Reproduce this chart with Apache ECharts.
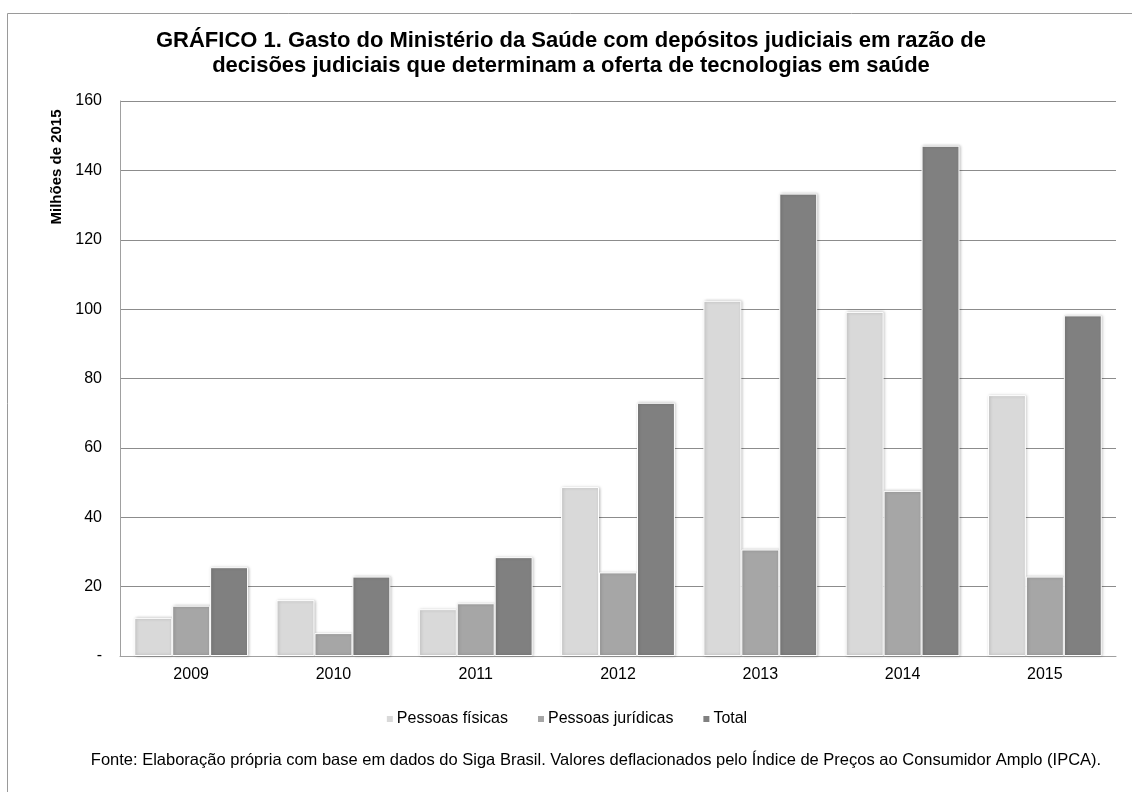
<!DOCTYPE html>
<html lang="pt">
<head>
<meta charset="UTF-8">
<title>Gráfico 1</title>
<script src="https://cdn.jsdelivr.net/npm/echarts@6/dist/echarts.min.js"></script>
<style>
html,body{margin:0;padding:0;background:#fff}
#chartBox{width:1132px;height:792px}
</style>
</head>
<body>
<div id="chartBox"></div>
<script>
// dados
const anos = ['2009', '2010', '2011', '2012', '2013', '2014', '2015'];
const pessoasFisicas = [11.0, 16.1, 13.5, 48.7, 102.4, 99.2, 75.2];
const pessoasJuridicas = [14.5, 6.6, 15.2, 24.1, 30.7, 47.6, 22.9];
const total = [25.6, 22.9, 28.5, 73.0, 133.3, 147.1, 98.2];
const nomesSeries = ['Pessoas físicas', 'Pessoas jurídicas', 'Total'];
const cores = ['#d9d9d9', '#a6a6a6', '#808080'];

const fonte = 'Liberation Sans, Arial, sans-serif';

function serie(nome, dados, cor) {
    return {
        type: 'bar',
        name: nome,
        data: dados,
        barGap: '0%',
        barCategoryGap: '20%',
        itemStyle: {
            color: cor,
            borderColor: '#ffffff',
            borderWidth: 1,
            shadowColor: 'rgba(0,0,0,0.25)',
            shadowBlur: 3,
            shadowOffsetX: 1,
            shadowOffsetY: 0
        }
    };
}

let chartObj = echarts.init(document.getElementById('chartBox'));
chartObj.setOption({
    animation: false,
    textStyle: {fontFamily: fonte},
    title: {
        text: 'GRÁFICO 1. Gasto do Ministério da Saúde com depósitos judiciais em razão de\ndecisões judiciais que determinam a oferta de tecnologias em saúde',
        left: 566,
        textAlign: 'center',
        top: 23,
        textStyle: {fontSize: 22, fontWeight: 'bold', color: '#000', lineHeight: 25, fontFamily: fonte}
    },
    grid: {left: 120, right: 16, top: 101, bottom: 136, containLabel: false},
    xAxis: {
        type: 'category',
        data: anos,
        axisLine: {lineStyle: {color: '#a0a0a0', width: 1}},
        axisTick: {show: false},
        axisLabel: {fontSize: 16, color: '#000', margin: 11}
    },
    yAxis: {
        type: 'value',
        min: 0,
        max: 160,
        interval: 20,
        axisLine: {show: true, lineStyle: {color: '#a0a0a0'}},
        axisTick: {show: false},
        splitLine: {lineStyle: {color: '#8c8c8c', width: 1}},
        axisLabel: {
            fontSize: 16, color: '#000', margin: 18,
            formatter: v => v === 0 ? '-' : String(v)
        }
    },
    legend: {
        data: nomesSeries,
        bottom: 60,
        left: 'center',
        itemWidth: 8,
        itemHeight: 8,
        itemGap: 28,
        icon: 'rect',
        textStyle: {fontSize: 16, color: '#000', padding: [0, 0, 0, -2]}
    },
    graphic: [
        {
            type: 'rect',
            shape: {x: 7.5, y: 13.5, width: 1200, height: 900},
            style: {fill: 'none', stroke: '#9a9a9a', lineWidth: 1},
            silent: true,
            z: -1
        },
        {
            type: 'text',
            x: 57,
            y: 167,
            rotation: Math.PI / 2,
            style: {
                text: 'Milhões de 2015',
                font: 'bold 15px ' + fonte,
                fill: '#000',
                align: 'center',
                verticalAlign: 'middle'
            }
        },
        {
            type: 'text',
            x: 596,
            y: 760,
            style: {
                text: 'Fonte: Elaboração própria com base em dados do Siga Brasil. Valores deflacionados pelo Índice de Preços ao Consumidor Amplo (IPCA).',
                font: '16.5px ' + fonte,
                fill: '#000',
                align: 'center',
                verticalAlign: 'middle'
            }
        }
    ],
    series: [
        serie(nomesSeries[0], pessoasFisicas, cores[0]),
        serie(nomesSeries[1], pessoasJuridicas, cores[1]),
        serie(nomesSeries[2], total, cores[2])
    ]
});
</script>
</body>
</html>
